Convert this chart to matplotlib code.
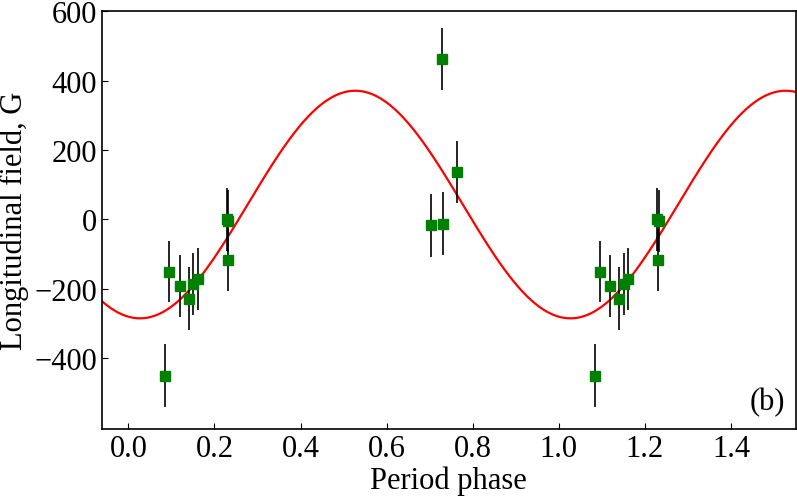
import numpy as np
import matplotlib
matplotlib.use("Agg")
import matplotlib.pyplot as plt

plt.rcParams.update({
    "font.family": "serif",
    "font.serif": ["Liberation Serif", "DejaVu Serif"],
    "font.size": 22,
    "xtick.direction": "in",
    "ytick.direction": "in",
    "xtick.major.size": 4,
    "ytick.major.size": 4,
    "axes.linewidth": 1.2,
})

# measured phases (one cycle), longitudinal field and errors
phase = [0.085, 0.095, 0.120, 0.141, 0.151, 0.161, 0.229, 0.232, 0.231,
         0.703, 0.731, 0.729, 0.763]
field = [-450, -150, -191, -228, -186, -172, 0, -5, -117,
         -17, -12, 462, 137]
err = [90, 89, 90, 90, 90, 90, 90, 90, 90, 90, 90, 90, 90]

# sinusoidal fit
b0, b1, phi_max = 43, 328, 0.527

ph2 = np.array(phase + [p + 1 for p in phase])
f2 = np.array(field + field)
e2 = np.array(err + err)

fig, ax = plt.subplots(figsize=(7.97, 5.02), dpi=100)
xx = np.linspace(-0.07, 1.56, 500)
ax.plot(xx, b0 + b1 * np.cos(2 * np.pi * (xx - phi_max)), color="red", lw=1.6, zorder=1)
ax.errorbar(ph2, f2, yerr=e2, fmt="s", color="green", ecolor="black",
            elinewidth=1.2, capsize=0, ms=7.5, zorder=2)

ax.set_xlim(-0.062, 1.551)
ax.set_ylim(-604, 600)
ax.set_xticks(np.arange(0, 1.41, 0.2))
ax.set_yticks(np.arange(-400, 601, 200))
ax.set_xlabel("Period phase", labelpad=2)
ax.set_ylabel("Longitudinal field, G", labelpad=4)
ax.text(0.985, 0.03, "(b)", transform=ax.transAxes, ha="right", va="bottom")

fig.subplots_adjust(left=0.1276, right=0.9987, top=0.9755, bottom=0.1434)
fig.savefig("out.png", dpi=100)
